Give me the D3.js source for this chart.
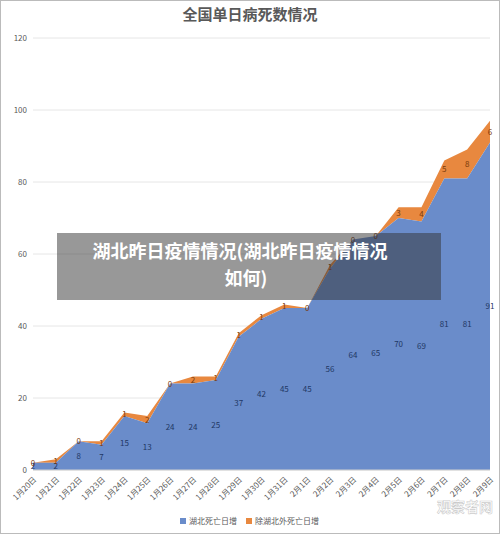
<!DOCTYPE html><html><head><meta charset="utf-8"><script src="https://cdn.jsdelivr.net/npm/d3@7"></script>
<style>body{margin:0;background:#fff}svg{display:block;font-family:"Noto Sans CJK SC",sans-serif}</style></head><body><svg id="c" width="500" height="534"></svg>
<script>
const dates=["1月20日","1月21日","1月22日","1月23日","1月24日","1月25日","1月26日","1月27日","1月28日","1月29日","1月30日","1月31日","2月1日","2月2日","2月3日","2月4日","2月5日","2月6日","2月7日","2月8日","2月9日"];
const hubei=[2,2,8,7,15,13,24,24,25,37,42,45,45,56,64,65,70,69,81,81,91];
const outside=[0,1,0,1,1,2,0,2,1,1,1,1,0,1,0,0,3,4,5,8,6];
const yTicks=[0,20,40,60,80,100,120];
const svg=d3.select("#c");
svg.append("rect").attr("x",0.5).attr("y",0.5).attr("width",499).attr("height",533).attr("fill","none").attr("stroke","#bbb");
const x=d3.scalePoint().domain(dates).range([33,490]);
const y=d3.scaleLinear().domain([0,120]).range([470,38]);
svg.append("text").attr("x",250).attr("y",20).attr("text-anchor","middle").attr("font-size",15).attr("font-weight","bold").attr("fill","#595959").text("全国单日病死数情况");
svg.append("g").selectAll("line").data(yTicks).join("line").attr("x1",33).attr("x2",490).attr("y1",d=>y(d)).attr("y2",d=>y(d)).attr("stroke","#e6e6e6");
svg.append("g").selectAll("text").data(yTicks).join("text").attr("x",27).attr("y",d=>y(d)+3).attr("text-anchor","end").attr("font-size",8).attr("fill","#595959").text(d=>d);
const data=dates.map((d,i)=>({d,h:hubei[i],o:outside[i]}));
svg.append("path").datum(data).attr("fill","#e8883f").attr("d",d3.area().x(d=>x(d.d)).y0(d=>y(d.h)).y1(d=>y(d.h+d.o)));
svg.append("path").datum(data).attr("fill","#6a8cca").attr("d",d3.area().x(d=>x(d.d)).y0(y(0)).y1(d=>y(d.h)));
svg.append("line").attr("x1",33).attr("x2",490).attr("y1",y(0)).attr("y2",y(0)).attr("stroke","#d0d0d0");
svg.append("g").selectAll("text").data(data).join("text").attr("x",d=>x(d.d)).attr("y",d=>y(d.h/2)+3).attr("text-anchor","middle").attr("font-size",8).attr("fill","#1f3764").text(d=>d.h);
svg.append("g").selectAll("text").data(data).join("text").attr("x",d=>x(d.d)).attr("y",d=>y(d.h+d.o/2)+3).attr("text-anchor","middle").attr("font-size",8).attr("fill","#7a3a0a").text(d=>d.o);
svg.append("g").selectAll("text").data(dates).join("text").attr("transform",d=>`translate(${x(d)+4},${y(0)+10}) rotate(-45)`).attr("text-anchor","end").attr("font-size",8).attr("fill","#595959").text(d=>d);
const lg=svg.append("g").attr("font-size",8).attr("fill","#595959");
lg.append("rect").attr("x",180).attr("y",518).attr("width",6).attr("height",6).attr("fill","#6a8cca");
lg.append("text").attr("x",189).attr("y",524).text("湖北死亡日增");
lg.append("rect").attr("x",246).attr("y",518).attr("width",6).attr("height",6).attr("fill","#e8883f");
lg.append("text").attr("x",255).attr("y",524).text("除湖北外死亡日增");
svg.append("text").attr("x",465).attr("y",512).attr("text-anchor","middle").attr("font-size",14).attr("font-weight","bold").attr("fill","rgba(255,255,255,0.8)").attr("stroke","rgba(150,150,150,0.5)").attr("stroke-width",0.6).text("观察者网");
svg.append("rect").attr("x",57).attr("y",233).attr("width",384).attr("height",67).attr("fill","rgba(50,50,50,0.5)");
svg.append("text").attr("x",240).attr("y",258).attr("text-anchor","middle").attr("font-size",18).attr("font-weight","bold").attr("fill","#fff").text("湖北昨日疫情情况(湖北昨日疫情情况");
svg.append("text").attr("x",246).attr("y",285).attr("text-anchor","middle").attr("font-size",18).attr("font-weight","bold").attr("fill","#fff").text("如何)");
</script></body></html>
